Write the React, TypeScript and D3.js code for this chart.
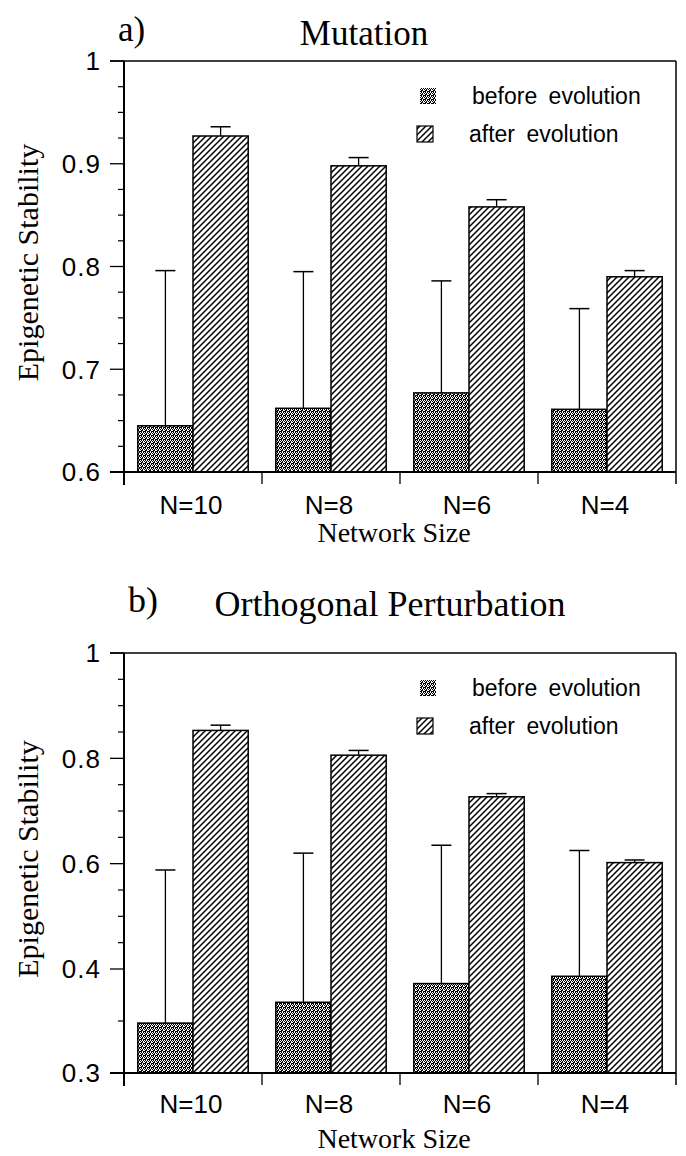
// App.tsx - two grouped bar charts (epigenetic stability before / after evolution)

import React, { useEffect } from "react";
import * as d3 from "d3";

// categories shared by both panels
const categories = ["N=10", "N=8", "N=6", "N=4"];
const seriesKeys = ["before", "after"];
const legendLabels = ["before evolution", "after evolution"];

// panel a) Mutation
const mutationBefore = [0.645, 0.662, 0.677, 0.661];
const mutationBeforeErr = [0.151, 0.133, 0.109, 0.098];
const mutationAfter = [0.927, 0.898, 0.858, 0.79];
const mutationAfterErr = [0.009, 0.008, 0.007, 0.006];
const mutationTicks = [0.6, 0.7, 0.8, 0.9, 1];

// panel b) Orthogonal Perturbation
const orthoBefore = [0.348, 0.368, 0.386, 0.393];
const orthoBeforeErr = [0.24, 0.252, 0.249, 0.232];
const orthoAfter = [0.853, 0.806, 0.727, 0.602];
const orthoAfterErr = [0.01, 0.009, 0.006, 0.005];
const orthoTicks = [0.3, 0.4, 0.6, 0.8, 1];

const SERIF = "'Liberation Serif', 'Times New Roman', serif";
const SANS = "'Liberation Sans', Arial, Helvetica, sans-serif";

type PanelProps = {
  top: number;
  bottom: number;
  label: string;
  labelX: number;
  title: string;
  titleX: number;
  titleY: number;
  titleSize: number;
  yScale: d3.ScaleLinear<number, number>;
  ticks: number[];
  minorStep: number;
  before: number[];
  beforeErr: number[];
  after: number[];
  afterErr: number[];
  xLabelOffset: number;
  xTitleOffset: number;
};

const left = 124;
const right = 676;

const Panel = ({
  top,
  bottom,
  label,
  labelX,
  title,
  titleX,
  titleY,
  titleSize,
  yScale,
  ticks,
  minorStep,
  before,
  beforeErr,
  after,
  afterErr,
  xLabelOffset,
  xTitleOffset,
}: PanelProps) => {
  // outer band per category, inner band per series
  const x = d3
    .scaleBand()
    .domain(categories)
    .range([left, right])
    .paddingInner(0.2)
    .paddingOuter(0.1);
  const xs = d3.scaleBand().domain(seriesKeys).range([0, x.bandwidth()]);

  // minor ticks between the major ones
  const minor: number[] = [];
  for (let i = 0; i < ticks.length - 1; i++) {
    const a = ticks[i];
    const b = ticks[i + 1];
    const step = b - a > minorStep * 1.5 ? minorStep : (b - a) / 4;
    for (let v = a + step; v < b - 1e-6; v += step) minor.push(v);
  }

  const bounds = categories.map((c) => (x(c) as number) - x.step() * 0.1);
  const y0 = yScale.domain()[0];

  const series = [
    { key: "before", vals: before, errs: beforeErr, fill: "url(#stipple)" },
    { key: "after", vals: after, errs: afterErr, fill: "url(#hatch)" },
  ];

  return (
    <g>
      {/* titles */}
      <text x={labelX} y={titleY - 4} fontFamily={SERIF} fontSize={titleSize}>
        {label}
      </text>
      <text x={titleX} y={titleY} fontFamily={SERIF} fontSize={titleSize} textAnchor="middle">
        {title}
      </text>

      {/* bars */}
      {series.map((s) =>
        categories.map((c, i) => {
          const bx = (x(c) as number) + (xs(s.key) as number);
          const bw = xs.bandwidth();
          const yt = yScale(s.vals[i]);
          const ye = yScale(s.vals[i] + s.errs[i]);
          const cx = bx + bw / 2;
          return (
            <g key={s.key + c}>
              <rect
                x={bx}
                y={yt}
                width={bw}
                height={yScale(y0) - yt}
                fill={s.fill}
                stroke="#000"
                strokeWidth={1.5}
              />
              <line x1={cx} x2={cx} y1={yt} y2={ye} stroke="#000" strokeWidth={1.3} />
              <line x1={cx - 10} x2={cx + 10} y1={ye} y2={ye} stroke="#000" strokeWidth={1.5} />
            </g>
          );
        })
      )}

      {/* frame */}
      <line x1={110} x2={right} y1={top} y2={top} stroke="#000" strokeWidth={1.5} />
      <line x1={right} x2={right} y1={top} y2={bottom + 12} stroke="#000" strokeWidth={1.5} />
      <line x1={left} x2={left} y1={top} y2={bottom + 13} stroke="#000" strokeWidth={2} />
      <line x1={110} x2={right} y1={bottom} y2={bottom} stroke="#000" strokeWidth={2.2} />

      {/* y ticks */}
      {ticks.map((t) => (
        <g key={"t" + t}>
          <line x1={110} x2={left} y1={yScale(t)} y2={yScale(t)} stroke="#000" strokeWidth={1.3} />
          <text
            x={101}
            y={yScale(t)}
            dy="0.36em"
            textAnchor="end"
            fontFamily={SANS}
            fontSize={26}
            letterSpacing={1}
          >
            {String(t)}
          </text>
        </g>
      ))}
      {minor.map((t) => (
        <line key={"m" + t} x1={118} x2={left} y1={yScale(t)} y2={yScale(t)} stroke="#000" strokeWidth={1.2} />
      ))}

      {/* x ticks at category boundaries */}
      {bounds.slice(1).map((b, i) => (
        <line key={"xb" + i} x1={b} x2={b} y1={bottom} y2={bottom + 12} stroke="#000" strokeWidth={1.3} />
      ))}
      {categories.map((c) => (
        <text
          key={"xl" + c}
          x={(x(c) as number) + x.bandwidth() / 2 - 2}
          y={bottom + xLabelOffset}
          textAnchor="middle"
          fontFamily={SANS}
          fontSize={26}
        >
          {c}
        </text>
      ))}
      <text
        x={(left + right) / 2 - 6}
        y={bottom + xTitleOffset}
        textAnchor="middle"
        fontFamily={SERIF}
        fontSize={28}
      >
        Network Size
      </text>

      {/* y title */}
      <text
        transform={`translate(38, ${(top + bottom) / 2 - 4}) rotate(-90)`}
        textAnchor="middle"
        fontFamily={SERIF}
        fontSize={30}
      >
        Epigenetic Stability
      </text>

      {/* legend */}
      {series.map((s, i) => (
        <g key={"lg" + s.key}>
          <rect
            x={i === 0 ? 420 : 417}
            y={top + 27 + i * 38}
            width={16}
            height={16}
            fill={s.fill}
            stroke={i === 0 ? "none" : "#000"}
            strokeWidth={1.2}
          />
          <text
            x={i === 0 ? 472 : 469}
            y={top + 43 + i * 38}
            fontFamily={SANS}
            fontSize={23}
            wordSpacing={5}
          >
            {legendLabels[i]}
          </text>
        </g>
      ))}
    </g>
  );
};

export default function App() {
  useEffect(() => {
    document.body.style.margin = "0";
  }, []);

  const topA = 61;
  const bottomA = 472;
  const yA = d3.scaleLinear().domain([0.6, 1]).range([bottomA, topA]);

  const topB = 653;
  const bottomB = 1073;
  // the printed axis is not linear: 0.3 -> 0.4 spans the same length as 0.4 -> 0.6
  const yB = d3.scaleLinear().domain([0.3, 0.4, 1]).range([bottomB, 969, topB]);

  return (
    <svg width={686} height={1156} style={{ display: "block", background: "#fff" }}>
      <defs>
        <pattern id="stipple" patternUnits="userSpaceOnUse" width={4} height={4}>
          <rect width={4} height={4} fill="#000" />
          <rect x={0} y={0} width={1} height={1} fill="#fff" shapeRendering="crispEdges" />
          <rect x={2} y={0} width={1} height={1} fill="#fff" shapeRendering="crispEdges" />
          <rect x={1} y={1} width={1} height={1} fill="#fff" shapeRendering="crispEdges" />
          <rect x={3} y={2} width={1} height={1} fill="#fff" shapeRendering="crispEdges" />
          <rect x={0} y={2} width={1} height={1} fill="#fff" shapeRendering="crispEdges" />
          <rect x={2} y={3} width={1} height={1} fill="#fff" shapeRendering="crispEdges" />
          <rect x={3} y={1} width={1} height={1} fill="#fff" shapeRendering="crispEdges" />
        </pattern>
        <pattern id="hatch" patternUnits="userSpaceOnUse" width={6} height={6}>
          <rect width={6} height={6} fill="#fff" />
          <path d="M-1,1 l2,-2 M0,6 l6,-6 M5,7 l2,-2" stroke="#000" strokeWidth={1.5} />
        </pattern>
      </defs>
      <Panel
        top={topA}
        bottom={bottomA}
        label="a)"
        labelX={118}
        title="Mutation"
        titleX={364}
        titleY={45}
        titleSize={35}
        yScale={yA}
        ticks={mutationTicks}
        minorStep={0.025}
        before={mutationBefore}
        beforeErr={mutationBeforeErr}
        after={mutationAfter}
        afterErr={mutationAfterErr}
        xLabelOffset={42}
        xTitleOffset={70}
      />
      <Panel
        top={topB}
        bottom={bottomB}
        label="b)"
        labelX={128}
        title="Orthogonal Perturbation"
        titleX={390}
        titleY={616}
        titleSize={36}
        yScale={yB}
        ticks={orthoTicks}
        minorStep={0.05}
        before={orthoBefore}
        beforeErr={orthoBeforeErr}
        after={orthoAfter}
        afterErr={orthoAfterErr}
        xLabelOffset={40}
        xTitleOffset={75}
      />
    </svg>
  );
}
